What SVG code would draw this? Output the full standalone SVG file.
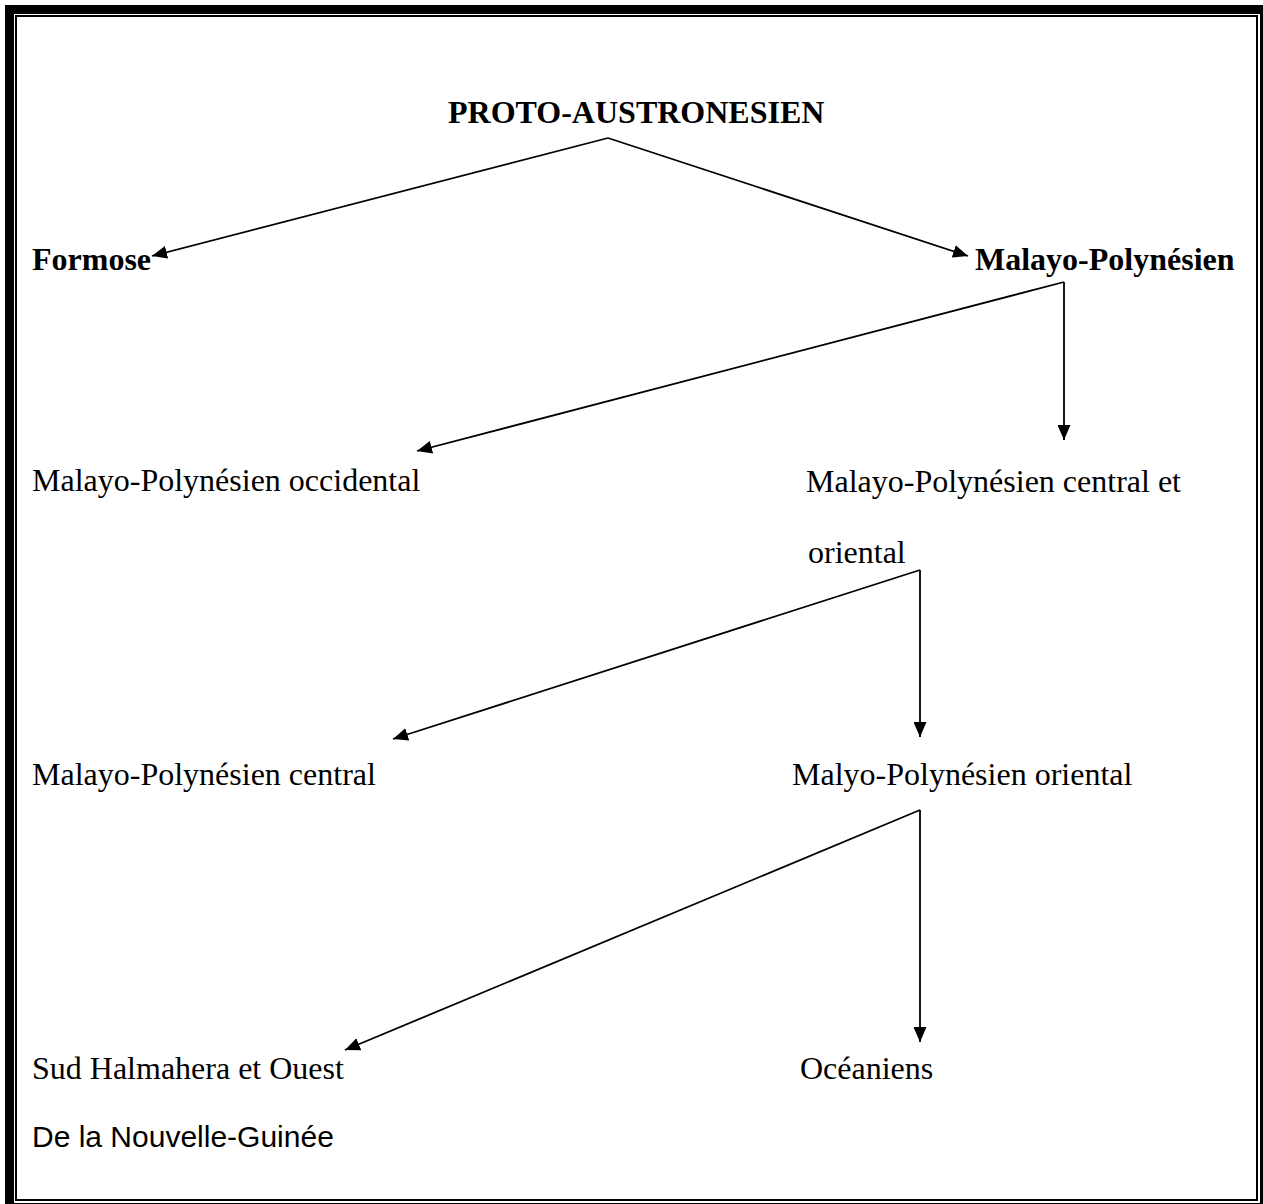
<svg xmlns="http://www.w3.org/2000/svg" width="1263" height="1204" viewBox="0 0 1263 1204">
<style>
.t{font-family:"Liberation Serif","Times New Roman",serif;font-size:32px;fill:#000}
.b{font-weight:bold}
.s{font-family:"Liberation Sans",Arial,sans-serif;font-size:30px;fill:#000}
.c{stroke:#000;stroke-width:1.8;fill:none}
</style>
<defs>
<marker id="ah" markerUnits="userSpaceOnUse" markerWidth="16" markerHeight="13" refX="15" refY="6.5" orient="auto">
<path d="M0,0 L15,6.5 L0,13 z" fill="#000"/>
</marker>
</defs>
<rect x="0" y="0" width="1263" height="1204" fill="#fff"/>
<g id="frame">
<rect x="9.5" y="9.5" width="1255" height="1198" fill="none" stroke="#000" stroke-width="9"/>
<rect x="16" y="16" width="1241" height="1184" fill="none" stroke="#000" stroke-width="2"/>
</g>
<g id="connectors">
<line class="c" x1="608" y1="138" x2="152" y2="256" marker-end="url(#ah)"/>
<line class="c" x1="608" y1="138" x2="968" y2="256" marker-end="url(#ah)"/>
<line class="c" x1="1064" y1="282" x2="1064" y2="440" marker-end="url(#ah)"/>
<line class="c" x1="1064" y1="282" x2="417" y2="451" marker-end="url(#ah)"/>
<line class="c" x1="920" y1="570" x2="920" y2="737" marker-end="url(#ah)"/>
<line class="c" x1="920" y1="570" x2="393" y2="739" marker-end="url(#ah)"/>
<line class="c" x1="920" y1="810" x2="920" y2="1042" marker-end="url(#ah)"/>
<line class="c" x1="920" y1="810" x2="345" y2="1050" marker-end="url(#ah)"/>
</g>
<g id="n-proto"><text class="t b" x="448" y="123">PROTO-AUSTRONESIEN</text></g>
<g id="n-formose"><text class="t b" x="32" y="270">Formose</text></g>
<g id="n-mp"><text class="t b" x="975" y="270">Malayo-Polynésien</text></g>
<g id="n-mp-occ"><text class="t" x="32" y="491">Malayo-Polynésien occidental</text></g>
<g id="n-mp-co"><text class="t" x="806" y="492">Malayo-Polynésien central et</text><text class="t" x="808" y="563">oriental</text></g>
<g id="n-mp-c"><text class="t" x="32" y="785">Malayo-Polynésien central</text></g>
<g id="n-mp-o"><text class="t" x="792" y="785">Malyo-Polynésien oriental</text></g>
<g id="n-shwng"><text class="t" x="32" y="1079">Sud Halmahera et Ouest</text><text class="s" x="32" y="1147">De la Nouvelle-Guinée</text></g>
<g id="n-oc"><text class="t" x="800" y="1079">Océaniens</text></g>
</svg>
